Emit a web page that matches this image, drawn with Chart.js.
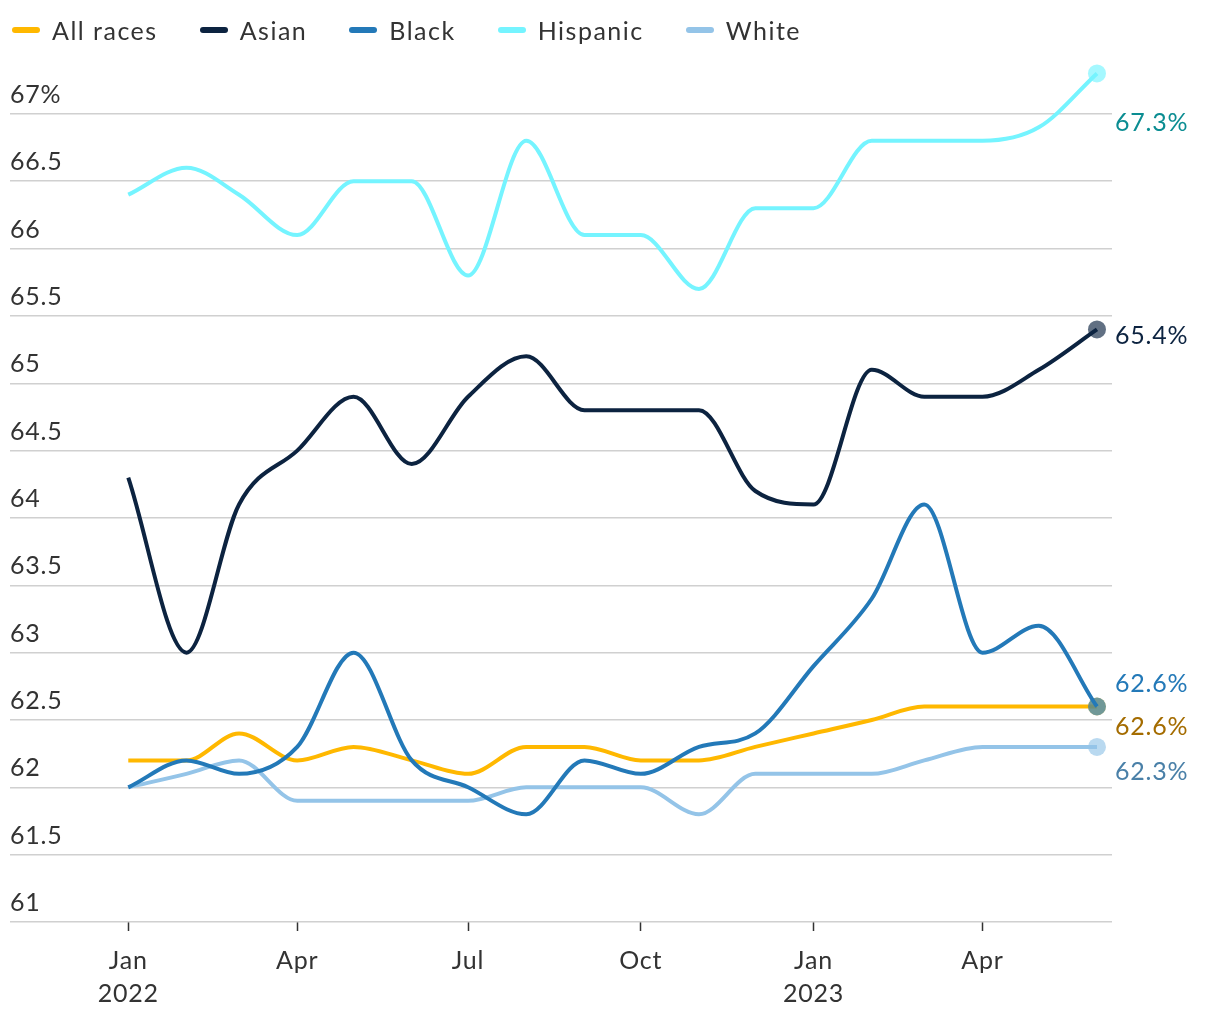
<!DOCTYPE html>
<html>
<head>
<meta charset="utf-8">
<script src="https://cdn.jsdelivr.net/npm/chart.js@4"></script>
<style>
  body { margin: 0; background: #fff; font-family: Lato, sans-serif; }
  .wrap { position: relative; width: 1220px; height: 1020px; }
  #legend { position: absolute; left: 12px; top: 15px; display: flex; font-size: 25px; letter-spacing: 1.5px; color: #333; }
  #legend .item { display: flex; align-items: center; margin-right: 42px; }
  #legend .sw { width: 28px; height: 6px; border-radius: 3px; margin-right: 12px; }
</style>
</head>
<body>
<div class="wrap">
  <div id="legend"></div>
  <canvas id="line_chart" width="1220" height="1020"></canvas>
</div>
<script>
var months = ['2022-01','2022-02','2022-03','2022-04','2022-05','2022-06','2022-07','2022-08','2022-09',
              '2022-10','2022-11','2022-12','2023-01','2023-02','2023-03','2023-04','2023-05','2023-06'];
var allRaces = [62.2,62.2,62.4,62.2,62.3,62.2,62.1,62.3,62.3,62.2,62.2,62.3,62.4,62.5,62.6,62.6,62.6,62.6];
var asian    = [64.3,63.0,64.1,64.5,64.9,64.4,64.9,65.2,64.8,64.8,64.8,64.2,64.1,65.1,64.9,64.9,65.1,65.4];
var black    = [62.0,62.2,62.1,62.3,63.0,62.2,62.0,61.8,62.2,62.1,62.3,62.4,62.9,63.4,64.1,63.0,63.2,62.6];
var hispanic = [66.4,66.6,66.4,66.1,66.5,66.5,65.8,66.8,66.1,66.1,65.7,66.3,66.3,66.8,66.8,66.8,66.9,67.3];
var white    = [62.0,62.1,62.2,61.9,61.9,61.9,61.9,62.0,62.0,62.0,61.8,62.1,62.1,62.1,62.2,62.3,62.3,62.3];

var tickDates  = ['2022-01','2022-04','2022-07','2022-10','2023-01','2023-04'];
var tickLabels = [['Jan','2022'],'Apr','Jul','Oct',['Jan','2023'],'Apr'];
var yTicks = [61, 61.5, 62, 62.5, 63, 63.5, 64, 64.5, 65, 65.5, 66, 66.5, 67];

function dayOf(m) {
    var p = m.split('-');
    return (Date.UTC(+p[0], +p[1] - 1, 1) - Date.UTC(2022, 0, 1)) / 86400000;
}
function pts(vals) {
    return vals.map(function (v, i) { return {x: dayOf(months[i]), y: v}; });
}
function rgba(hex, a) {
    var n = parseInt(hex.slice(1), 16);
    return 'rgba(' + (n >> 16) + ',' + ((n >> 8) & 255) + ',' + (n & 255) + ',' + a + ')';
}

var series = [
    {label: 'All races', data: allRaces, color: '#ffb800', text: '#a46c00', dy: 20, order: 5},
    {label: 'Asian',     data: asian,    color: '#0c2340', text: '#0c2340', dy: 7,  order: 2},
    {label: 'Black',     data: black,    color: '#2379b8', text: '#2379b8', dy: -23, order: 3},
    {label: 'Hispanic',  data: hispanic, color: '#75f4ff', text: '#0b8d92', dy: 49, order: 1},
    {label: 'White',     data: white,    color: '#94c4e8', text: '#4a80a8', dy: 25, order: 4}
];

var legend = document.getElementById('legend');
series.forEach(function (s) {
    var it = document.createElement('div');
    it.className = 'item';
    it.innerHTML = '<span class="sw" style="background:' + s.color + '"></span><span>' + s.label + '</span>';
    legend.appendChild(it);
});

// slightly wider text, closer to the original font
var spacing = {
    id: 'spacing',
    beforeDraw: function (chart) { chart.ctx.letterSpacing = '0.8px'; }
};

// end-of-line value labels
var endLabels = {
    id: 'endLabels',
    afterDatasetsDraw: function (chart) {
        var ctx = chart.ctx;
        ctx.save();
        ctx.font = '25px Lato';
        ctx.textBaseline = 'middle';
        chart.data.datasets.forEach(function (ds, i) {
            var meta = chart.getDatasetMeta(i);
            var p = meta.data[meta.data.length - 1];
            ctx.fillStyle = ds.labelColor;
            ctx.fillText(ds.data[ds.data.length - 1].y.toFixed(1) + '%', p.x + 18, p.y + ds.labelDy);
        });
        ctx.restore();
    }
};

var ctx = document.getElementById('line_chart').getContext('2d');
var myChart = new Chart(ctx, {
    type: 'line',
    data: {
        datasets: series.map(function (s) {
            return {
                label: s.label,
                data: pts(s.data),
                borderColor: s.color,
                backgroundColor: s.color,
                borderWidth: 4,
                cubicInterpolationMode: 'monotone',
                pointRadius: s.data.map(function (v, i) { return i === s.data.length - 1 ? 9 : 0; }),
                pointBackgroundColor: rgba(s.color, 0.65),
                pointBorderWidth: 0,
                order: s.order,
                clip: false,
                labelColor: s.text,
                labelDy: s.dy
            };
        })
    },
    options: {
        responsive: false,
        animation: false,
        layout: { padding: { left: 10, right: 108, top: 60, bottom: -3 } },
        plugins: {
            legend: { display: false },
            tooltip: { enabled: false }
        },
        scales: {
            x: {
                type: 'linear',
                min: -63,
                max: 524,
                afterBuildTicks: function (axis) {
                    axis.ticks = tickDates.map(function (d) { return {value: dayOf(d)}; });
                },
                ticks: {
                    autoSkip: false,
                    maxRotation: 0,
                    padding: 13,
                    color: '#333',
                    font: { family: 'Lato', size: 25, lineHeight: 1.32 },
                    callback: function (v) { return tickLabels[tickDates.map(dayOf).indexOf(v)]; }
                },
                grid: { drawOnChartArea: false, drawTicks: true, tickLength: 9, tickColor: '#333', tickWidth: 1.5 },
                border: { display: false }
            },
            y: {
                min: 61,
                max: 67.4,
                afterBuildTicks: function (axis) {
                    axis.ticks = yTicks.map(function (v) { return {value: v}; });
                },
                ticks: {
                    mirror: true,
                    padding: 0,
                    labelOffset: -19,
                    color: '#333',
                    font: { family: 'Lato', size: 25 },
                    callback: function (v) { return v === 67 ? '67%' : v; }
                },
                grid: { color: '#d0d0d0', lineWidth: 1.5, drawTicks: false },
                border: { display: false }
            }
        }
    },
    plugins: [spacing, endLabels]
});
</script>
</body>
</html>
